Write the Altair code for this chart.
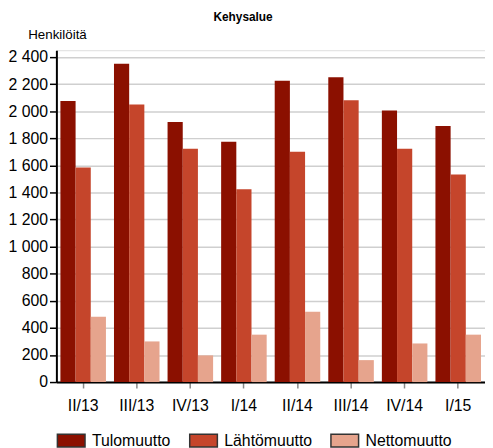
import altair as alt
import pandas as pd

quarters = ["II/13", "III/13", "IV/13", "I/14", "II/14", "III/14", "IV/14", "I/15"]
series = ["Tulomuutto", "Lähtömuutto", "Nettomuutto"]
tulomuutto = [2075, 2350, 1920, 1775, 2225, 2250, 2005, 1890]
lahtomuutto = [1585, 2050, 1723, 1423, 1700, 2080, 1723, 1533]
nettomuutto = [482, 300, 197, 350, 520, 162, 285, 350]
colors = ["#8B1000", "#C5452B", "#E6A48D"]
y_ticks = list(range(0, 2401, 200))

rows = []
for i, q in enumerate(quarters):
    for s, vals in zip(series, [tulomuutto, lahtomuutto, nettomuutto]):
        rows.append({"Neljännes": q, "Sarja": s, "Arvo": vals[i]})
df = pd.DataFrame(rows)

FONT = "Liberation Sans"

chart = alt.Chart(df).mark_bar().encode(
    x=alt.X("Neljännes:N", sort=quarters,
            scale=alt.Scale(paddingInner=0.15, paddingOuter=0.075),
            axis=alt.Axis(title=None, labelAngle=0, labelFontSize=16, labelFont=FONT,
                          labelColor="#000", domainColor="#000", domainWidth=2,
                          tickColor="#888", tickSize=6, tickWidth=1.5, labelPadding=10,
                          grid=False)),
    xOffset=alt.XOffset("Sarja:N", sort=series,
                        scale=alt.Scale(paddingInner=0, paddingOuter=0)),
    y=alt.Y("Arvo:Q", scale=alt.Scale(domain=[0, 2450], nice=False),
            axis=alt.Axis(title="Henkilöitä", titleAngle=0, titleAlign="left",
                          titleBaseline="middle", titleX=-29, titleY=-16,
                          titleFontSize=13.5, titleFontWeight="normal", titleFont=FONT,
                          titleColor="#000",
                          values=y_ticks,
                          labelExpr="replace(format(datum.value, ','), ',', ' ')",
                          labelFontSize=16, labelFont=FONT, labelColor="#000",
                          labelPadding=2, tickSize=7, tickColor="#000", tickWidth=1.5,
                          domainColor="#000", domainWidth=2,
                          gridColor="#cfcfcf", gridWidth=1.5)),
    color=alt.Color("Sarja:N", sort=series,
                    scale=alt.Scale(domain=series, range=colors),
                    legend=alt.Legend(title=None, orient="none", direction="horizontal",
                                      legendX=0, legendY=380, columns=3,
                                      symbolType="M-1,-0.464H1V0.464H-1Z",
                                      symbolSize=784, symbolStrokeColor="#333",
                                      symbolStrokeWidth=1.5, symbolOpacity=1,
                                      labelFontSize=16, labelFont=FONT, labelColor="#000",
                                      labelOffset=6, columnPadding=16)),
).properties(
    width=434,
    height=336,
    title=alt.TitleParams("Kehysalue", fontSize=12, fontWeight="bold", font=FONT,
                          anchor="middle", frame="group", dx=-28, offset=4,
                          color="#000"),
    autosize=alt.AutoSizeParams(type="none"),
    padding={"left": 49, "top": 40, "right": 0, "bottom": 64},
).configure_view(stroke=None).configure(background="white")

chart.save("out.html", embed_options={"renderer": "svg", "actions": False})
